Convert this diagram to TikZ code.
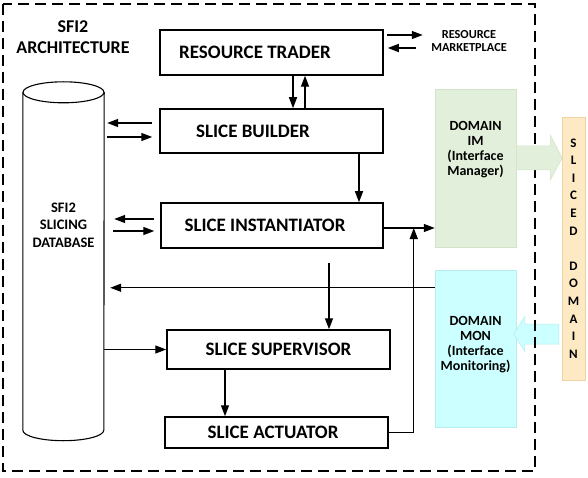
\documentclass[tikz,border=0pt]{standalone}
\usepackage{fontspec}
\setmainfont{Carlito}
\usetikzlibrary{arrows.meta,calc}
\definecolor{imgreen}{HTML}{E2EFDA}
\definecolor{imedge}{HTML}{D3E3C8}
\definecolor{moncyan}{HTML}{CCFFFF}
\definecolor{monedge}{HTML}{B8EDED}
\definecolor{sdpeach}{HTML}{FDE9C4}
\definecolor{sdedge}{HTML}{F0D3A0}
\tikzset{
  box/.style={draw, line width=1.5pt, minimum width=223pt, inner sep=0pt,
    font=\fontsize{19}{21}\selectfont\bfseries},
  arr/.style={line width=1.4pt, -{Triangle[length=11pt,width=8pt]}},
  cyl/.style={line width=1.1pt},
  frame/.style={line width=1.8pt, dash pattern=on 11pt off 6pt},
  lbl/.style={align=center, inner sep=0pt},
}
\begin{document}
\begin{tikzpicture}[x=1pt,y=-1pt]
\useasboundingbox (0,0) rectangle (588,478);

% title
\node[lbl, font=\fontsize{18}{21}\selectfont\bfseries] (title) at (73,37.5) {SFI2\\ARCHITECTURE};

% boxes
\node[box, minimum height=45pt] (rt) at (271.5,52.5) {\hspace*{-33pt}RESOURCE TRADER};
\node[box, minimum height=44pt] (sb) at (271.5,131) {\hspace*{-37pt}SLICE BUILDER};
\node[box, minimum width=222pt, minimum height=45pt] (si) at (272,225.5) {\hspace*{-14pt}SLICE INSTANTIATOR};
\node[box, minimum height=39pt] (ss) at (278.5,349.5) {SLICE SUPERVISOR};
\node[box, minimum height=31pt] (sa) at (276.5,432.5) {\hspace*{-7pt}SLICE ACTUATOR};

\node[lbl, font=\fontsize{12.3}{12.5}\selectfont\bfseries] (mkt) at (469,41) {RESOURCE\\MARKETPLACE};

% database cylinder
\node[minimum width=81pt, minimum height=358.5pt, inner sep=0pt] (db) at (63.5,261.25) {};
\draw[cyl] ($(db.north)+(0,10.5)$) ellipse [x radius=40.5, y radius=10.5];
\draw[cyl] ($(db.north west)+(0,10.5)$) -- ($(db.south west)+(0,-10.5)$)
  arc[start angle=180, end angle=0, x radius=40.5, y radius=10.5]
  -- ($(db.north east)+(0,10.5)$);
\node[lbl, font=\fontsize{14.5}{17.5}\selectfont\bfseries] (dbt) at (63.5,225) {SFI2\\SLICING\\DATABASE};

% domain boxes
\node[fill=imgreen, draw=imedge, line width=0.5pt, minimum width=81pt, minimum height=158pt] (im) at (475.5,168) {};
\node[lbl, font=\fontsize{14}{15}\selectfont\bfseries] (imt) at ($(im)+(0,-18.5)$) {DOMAIN\\IM\\(Interface\\Manager)};
\node[fill=moncyan, draw=monedge, line width=0.5pt, minimum width=81pt, minimum height=157pt] (mon) at (475.5,348.5) {};
\node[lbl, font=\fontsize{14}{15}\selectfont\bfseries] (mont) at ($(mon)+(0,-3.5)$) {DOMAIN\\MON\\(Interface\\Monitoring)};
\node[fill=sdpeach, draw=sdedge, line width=0.5pt, minimum width=23pt, minimum height=263pt, inner sep=0pt,
  align=center, font=\fontsize{13}{17.6}\selectfont\bfseries] (sd) at (573.5,248.5)
  {S\\L\\I\\C\\E\\D\\[17.6pt]D\\O\\M\\A\\I\\N};

% fat arrow into domain MON (under the frame)
\filldraw[fill=moncyan, draw=monedge, line width=0.5pt]
  ($(sd.west)+(-3,75.5)$) -- ++(-34,0) -- ++(0,-7.5) -- ++(-11,17.5) -- ++(11,17.5)
  -- ++(0,-7.5) -- ++(34,0) -- cycle;

% dashed frame
\draw[frame] (3,4) rectangle (535,471);

% fat arrow from domain IM (over the frame)
\filldraw[fill=imgreen, draw=imedge, line width=0.5pt]
  ($(im.east)+(0,-22)$) -- ++(34,0) -- ++(0,-11) -- ++(12,23) -- ++(-12,22)
  -- ++(0,-10) -- ++(-34,0) -- cycle;

% connectors
\draw[arr] ($(rt.south)+(21.5,0)$) -- ($(sb.north)+(21.5,0)$);
\draw[arr] ($(sb.north)+(33.5,0)$) -- ($(rt.south)+(33.5,0)$);
\draw[arr] ($(rt.east)+(3,-17.5)$) -- ++(36,0);
\draw[arr] ($(rt.east)+(32,-4.5)$) -- ++(-28,0);

\draw[arr] ($(sb.west)+(-7,-8)$) -- ($(db.east |- sb.west)+(3,-8)$);
\draw[arr] ($(db.east |- sb.west)+(3,6)$) -- ($(sb.west)+(-7,6)$);
\draw[arr] ($(si.west)+(-6,-6.5)$) -- ($(db.east |- si.west)+(10,-6.5)$);
\draw[arr] ($(db.east |- si.west)+(9,5.5)$) -- ($(si.west)+(-6,5.5)$);

\draw[arr] ($(sb.south)+(87.5,0)$) -- ($(si.north)+(87,0)$);
\draw[arr] ($(si.east)+(0,2.5)$) -- ($(im.west |- si.east)+(0,2.5)$);
\draw[arr] (sa.east) -- ++(25,0) -- ($(si.east)+(30,2.5)$);
\draw[arr] ($(mon.north west)+(0,18)$) -- ($(db.east |- mon.north west)+(6,18)$);
\draw[arr] ($(ss.north)+(50.5,-66)$) -- ($(ss.north)+(50.5,0)$);
\draw[arr] (db.east |- ss.west) -- (ss.west);
\draw[arr] ($(ss.south)+(-53.5,0)$) -- ($(sa.north)+(-51.5,0)$);
\end{tikzpicture}
\end{document}
